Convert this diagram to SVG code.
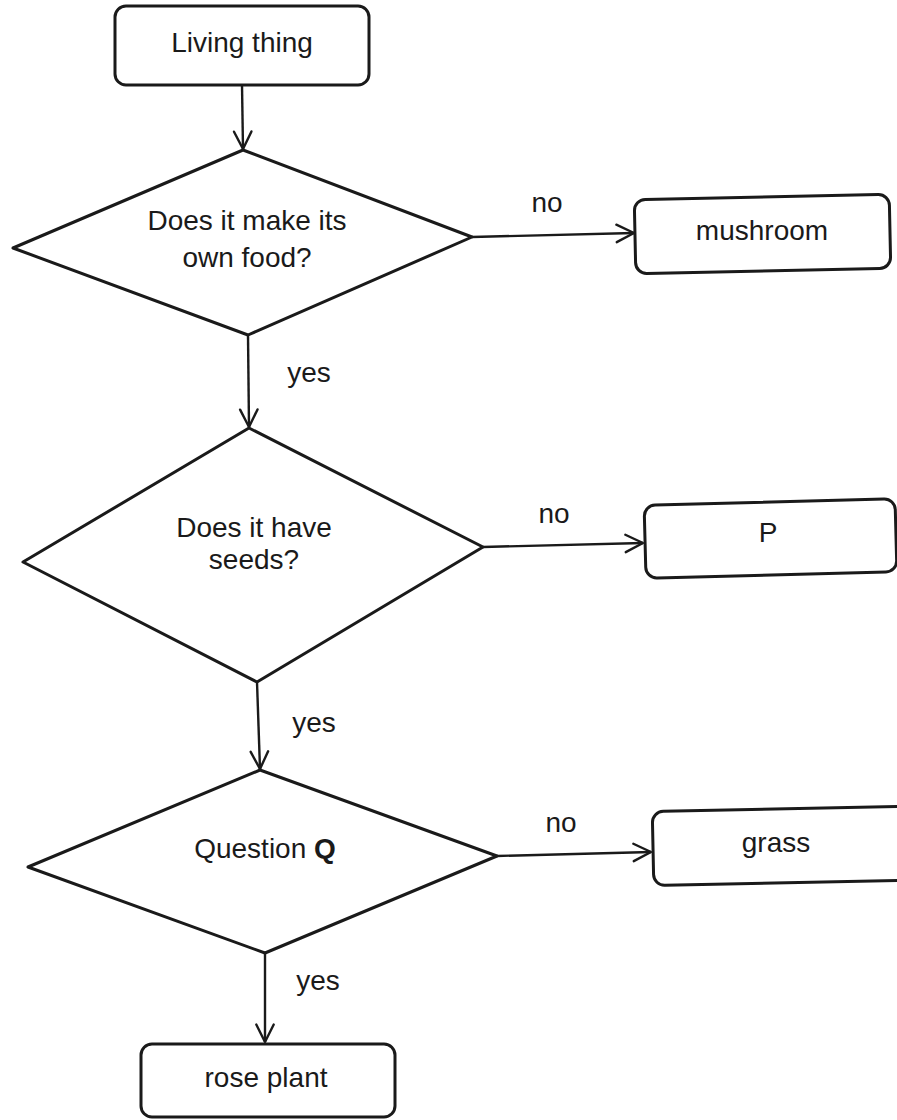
<svg xmlns="http://www.w3.org/2000/svg" width="897" height="1120" viewBox="0 0 897 1120">
<style>
.shape{fill:none;stroke:#1a1a1a;stroke-width:3;stroke-linejoin:round}
.conn{fill:none;stroke:#1a1a1a;stroke-width:2.4}
.head{fill:none;stroke:#1a1a1a;stroke-width:2.2;stroke-linecap:round;stroke-linejoin:round}
text{font-family:"Liberation Sans",Arial,sans-serif;font-size:28px;fill:#1a1a1a;text-anchor:middle}
</style>
<defs>
<marker id="arrow" markerUnits="userSpaceOnUse" markerWidth="24" markerHeight="24" viewBox="-20 -10 22 20" refX="0" refY="0" orient="auto">
<path class="head" d="M-16,-8 L0,0 L-16,8"/>
</marker>
</defs>
<rect width="897" height="1120" fill="#ffffff"/>
<g id="connectors">
<line class="conn" x1="242" y1="85" x2="243" y2="149" marker-end="url(#arrow)"/>
<line class="conn" x1="472" y1="237" x2="634" y2="233" marker-end="url(#arrow)"/>
<line class="conn" x1="248" y1="335" x2="249" y2="427" marker-end="url(#arrow)"/>
<line class="conn" x1="483" y1="547" x2="643" y2="543" marker-end="url(#arrow)"/>
<line class="conn" x1="257" y1="682" x2="260" y2="769" marker-end="url(#arrow)"/>
<line class="conn" x1="497" y1="856" x2="651" y2="852" marker-end="url(#arrow)"/>
<line class="conn" x1="265" y1="953" x2="265" y2="1042" marker-end="url(#arrow)"/>
<text x="547" y="212">no</text>
<text x="309" y="382">yes</text>
<text x="554" y="523">no</text>
<text x="314" y="732">yes</text>
<text x="561" y="832">no</text>
<text x="318" y="990">yes</text>
</g>
<g id="living-thing">
<rect class="shape" x="115" y="6" width="254" height="79" rx="11"/>
<text x="242" y="52">Living thing</text>
</g>
<g id="q-food">
<polygon class="shape" points="243,150 472,237 248,335 13,248"/>
<text x="247" y="230">Does it make its</text>
<text x="247" y="267">own food?</text>
</g>
<g id="mushroom">
<rect class="shape" x="635" y="197" width="255" height="74" rx="11" transform="rotate(-1.2 762 234)"/>
<text x="762" y="240">mushroom</text>
</g>
<g id="q-seeds">
<polygon class="shape" points="249,428 483,547 257,682 23,562"/>
<text x="254" y="537">Does it have</text>
<text x="254" y="569">seeds?</text>
</g>
<g id="p">
<rect class="shape" x="645" y="502" width="251" height="73" rx="11" transform="rotate(-1.5 770 538)"/>
<text x="768" y="542">P</text>
</g>
<g id="q-q">
<polygon class="shape" points="260,770 497,856 265,953 28,867"/>
<text x="265" y="858">Question <tspan font-weight="bold">Q</tspan></text>
</g>
<g id="grass">
<rect class="shape" x="653" y="809" width="260" height="74" rx="11" transform="rotate(-1.2 776 846)"/>
<text x="776" y="852">grass</text>
</g>
<g id="rose-plant">
<rect class="shape" x="141" y="1044" width="254" height="73" rx="11"/>
<text x="266" y="1087">rose plant</text>
</g>
</svg>
